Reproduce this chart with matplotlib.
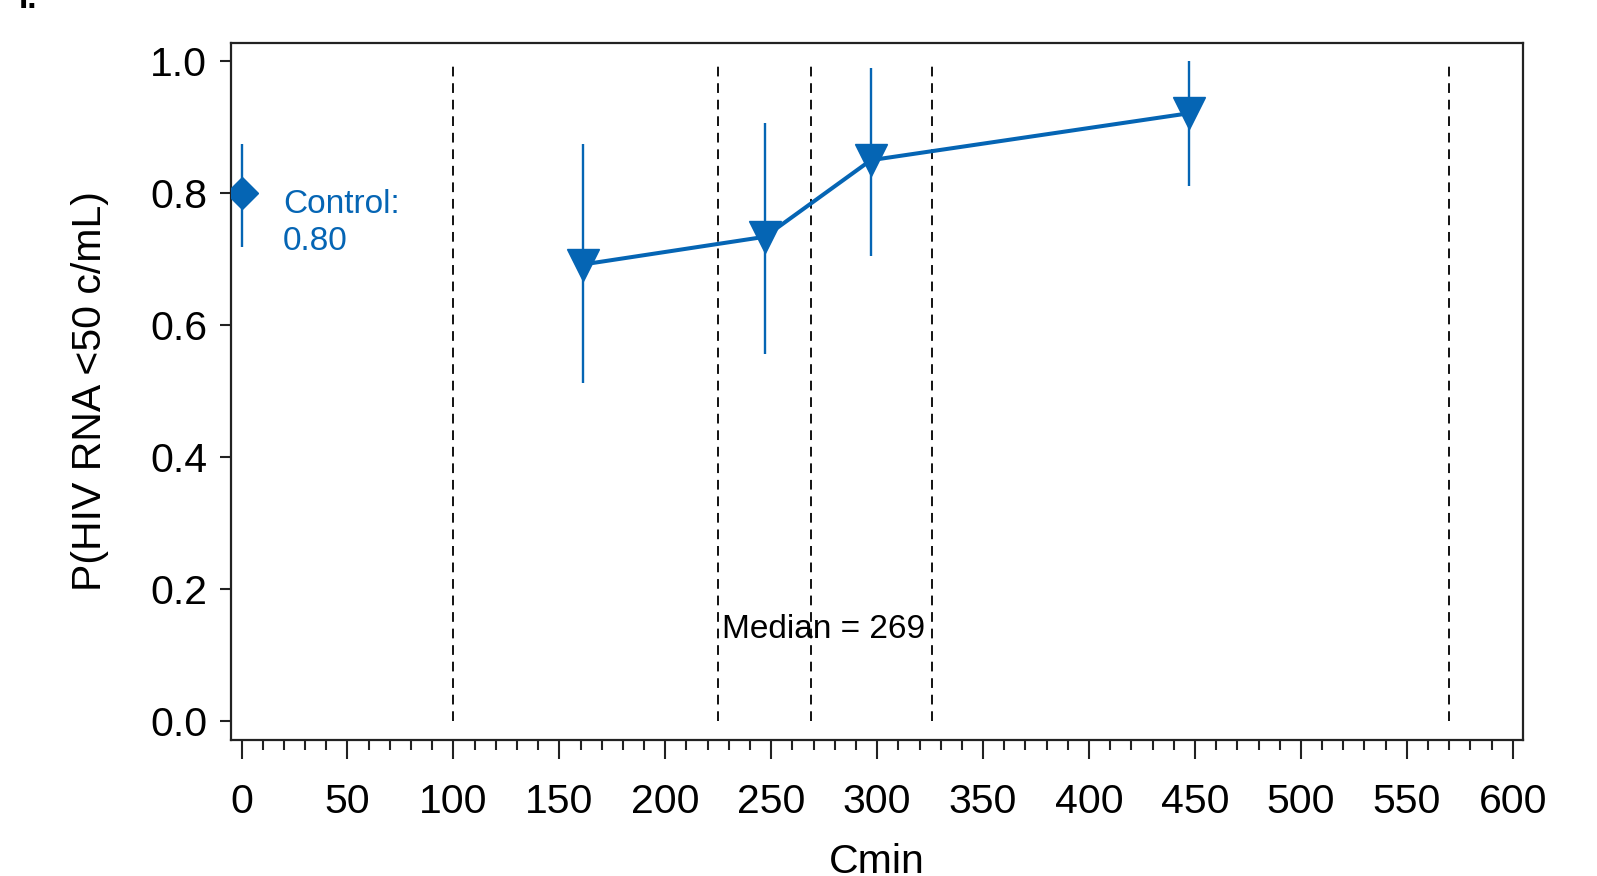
import numpy as np
import matplotlib.pyplot as plt
from matplotlib.ticker import MultipleLocator

plt.rcParams['font.family'] = ['Liberation Sans', 'DejaVu Sans']

# Data
cmin = [161, 247, 297, 447]
prob = [0.692, 0.734, 0.850, 0.921]
ci_low = [0.512, 0.556, 0.705, 0.811]
ci_high = [0.875, 0.906, 0.989, 1.000]

control_x = 0
control_p = 0.80
control_low = 0.719
control_high = 0.875

cut_lines = [100, 225, 269, 326, 570]
median_cmin = 269

blue = "#0565B4"

fig = plt.figure(figsize=(15.97, 8.76), dpi=100)
ax = fig.add_axes([0.1446, 0.1553, 0.8093, 0.7960])

# Quartile / cut point lines
for xv in cut_lines:
    ax.plot([xv, xv], [0, 1], color="#111111", lw=1.4, ls=(0, (5, 3.5)), zorder=1)

# Exposure groups
yerr = [np.array(prob) - np.array(ci_low), np.array(ci_high) - np.array(prob)]
ax.errorbar(cmin, prob, yerr=yerr, fmt="none", ecolor=blue, elinewidth=1.7, capsize=0, zorder=2)
ax.plot(cmin, prob, color=blue, lw=2.9, marker="v", ms=23, zorder=3)

# Control arm
ax.errorbar([control_x], [control_p],
            yerr=[[control_p - control_low], [control_high - control_p]],
            fmt="none", ecolor=blue, elinewidth=1.7, capsize=0, zorder=2)
ax.plot([control_x], [control_p], color=blue, marker="D", ms=16, ls="none", zorder=3)
ax.text(19.5, 0.755, "Control:\n0.80", color=blue, fontsize=24, va="center", ha="left",
        linespacing=1.25)

ax.text(median_cmin - 42, 0.14, "Median = %d" % median_cmin, fontsize=24, va="center", ha="left")

ax.set_xlim(-5, 605)
ax.set_ylim(-0.028, 1.028)
ax.xaxis.set_major_locator(MultipleLocator(50))
ax.xaxis.set_minor_locator(MultipleLocator(10))
ax.set_yticks([0, 0.2, 0.4, 0.6, 0.8, 1.0])
ax.set_yticklabels(["0.0", "0.2", "0.4", "0.6", "0.8", "1.0"])

ax.tick_params(axis="x", which="major", direction="out", length=14, width=1.5,
               labelsize=29.5, pad=17, color="#222222")
ax.tick_params(axis="x", which="minor", direction="out", length=7.5, width=1.5, color="#222222")
ax.tick_params(axis="y", direction="out", length=8, width=1.5, labelsize=29.5, pad=9,
               color="#222222")
for s in ax.spines.values():
    s.set_linewidth(1.6)
    s.set_color("#222222")

ax.set_xlabel("Cmin", fontsize=29.5, labelpad=16)
ax.set_ylabel("P(HIV RNA <50 c/mL)", fontsize=29.5, labelpad=30)

fig.text(0.012, 1.0, "I.", fontsize=24, fontweight="bold", va="center", ha="left")

plt.savefig("out.png", dpi=100)
